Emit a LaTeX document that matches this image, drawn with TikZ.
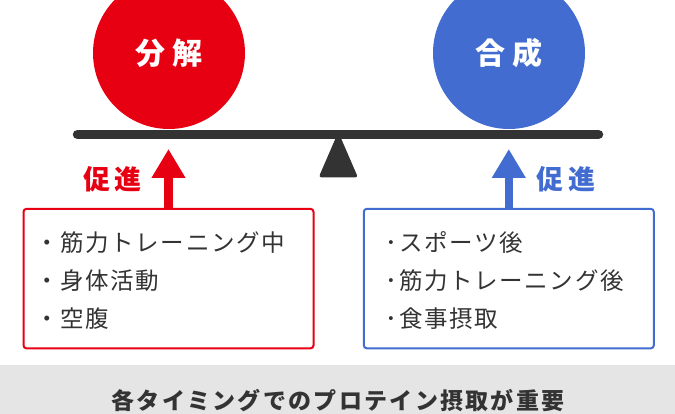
\documentclass[tikz,border=0pt]{standalone}
\usepackage{fontspec}
\setmainfont{Noto Sans CJK JP}
\usepackage{tikz}
\usetikzlibrary{arrows.meta}
\definecolor{breakred}{HTML}{E60012}
\definecolor{buildblue}{HTML}{426CCF}
\definecolor{beamgray}{HTML}{333333}
\definecolor{bandgray}{HTML}{E5E5E5}

\tikzset{
  ball/.style={circle, fill=#1, minimum size=152pt, inner sep=0pt, text=white,
    font=\fontsize{30}{30}\selectfont\bfseries\addfontfeature{LetterSpace=24}},
  listbox/.style={draw=#1, line width=2pt, rounded corners=3pt,
    minimum width=290pt, minimum height=139.5pt},
  listitem/.style={anchor=west, inner sep=0pt, text=beamgray,
    font=\fontsize{23.5}{23.5}\selectfont\addfontfeature{LetterSpace=7}},
  tagtext/.style={inner sep=0pt, text=#1,
    font=\fontsize{27}{27}\selectfont\bfseries\addfontfeature{LetterSpace=15}},
  uparrow/.style={draw=#1, line width=8.5pt, -{Triangle[width=32pt, length=29pt]}}
}

\begin{document}
\begin{tikzpicture}[x=1pt, y=-1pt]
\useasboundingbox (0,0) rectangle (675,414);
\clip (0,0) rectangle (675,414);

% the two balls on the seesaw
\node[ball=breakred] (breakdown) at (169,53) {分解};
\node[ball=buildblue] (synthesis) at (509,53) {合成};

%% beam and fulcrum
\coordinate (beamleft) at (77.5,134.5);
\coordinate (beamright) at (598.5,134.5);
\draw[beamgray, line width=9.5pt, line cap=round] (beamleft) -- (beamright);
\fill[beamgray, rounded corners=3pt] (338.3,132) -- (358,177.5) -- (318.6,177.5) -- cycle;

%% boxes with the timings
\node[listbox=breakred] (redlist) at (168.5,278.6) {};
\node[listbox=buildblue] (bluelist) at (508.8,278.6) {};

\foreach \entry [count=\i] in {筋力トレーニング中, 身体活動, 空腹}
  {
  \node[listitem] (redline\i) at (35,{243+38*(\i-1)}) {・\entry};
  }
\foreach \entry [count=\i] in {スポーツ後, 筋力トレーニング後, 食事摂取}
  {
  \node[listitem] (blueline\i) at (385.5,{243+38*(\i-1)}) {･\entry};
  }

%% arrows up to the balls
\coordinate (redtip) at (168.5,149);
\coordinate (bluetip) at (508.8,149);
\draw[uparrow=breakred] (redlist.north) -- (redtip);
\draw[uparrow=buildblue] (bluelist.north) -- (bluetip);

\node[tagtext=breakred] (redtag) at (113,179) {促進};
\node[tagtext=buildblue] (bluetag) at (566,179) {促進};

%% bottom band
\fill[bandgray] (0,364.5) rectangle (675,420);
\node[inner sep=0pt, text=beamgray,
  font=\fontsize{23}{23}\selectfont\bfseries\addfontfeature{LetterSpace=10}]
  (summary) at (338,401) {各タイミングでのプロテイン摂取が重要};

\end{tikzpicture}
\end{document}
